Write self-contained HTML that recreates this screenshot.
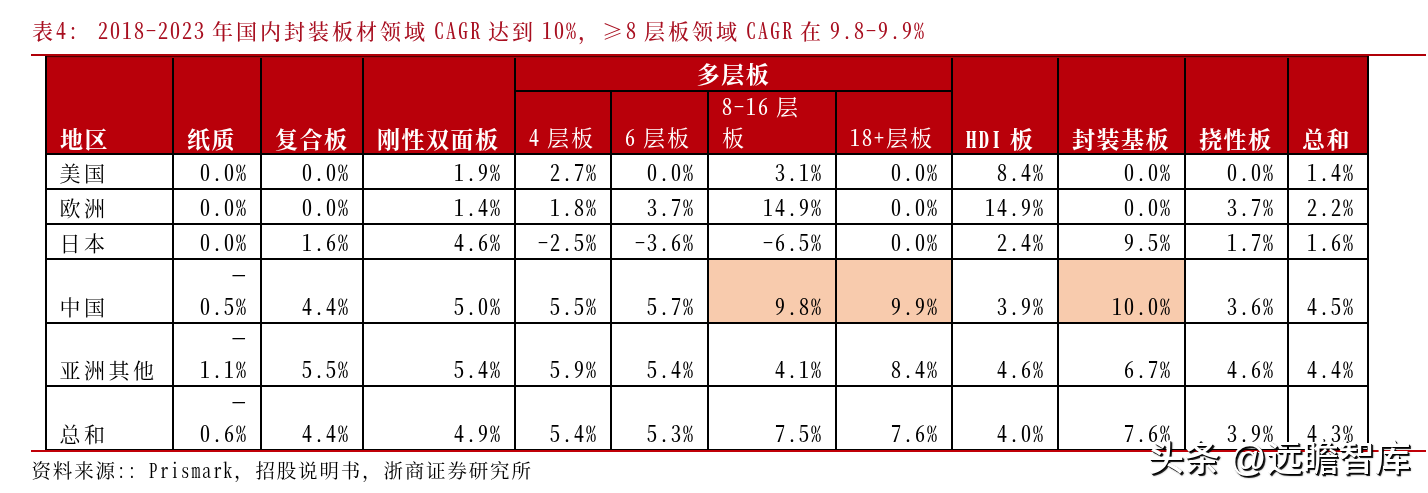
<!DOCTYPE html>
<html lang="zh-CN"><head><meta charset="utf-8"><title>表4</title>
<style>
html,body{margin:0;padding:0;background:#fff;}
body{width:1428px;height:493px;position:relative;overflow:hidden;
 font-family:"Noto Serif CJK SC","Liberation Serif",serif;color:#000;}
.n{font-feature-settings:"hwid";display:inline-block;white-space:pre;line-height:1;font-size:.909em;font-weight:500;letter-spacing:2px;word-spacing:-6px;transform:scaleY(1.1);transform-origin:50% 93%}
.title{position:absolute;left:32px;top:13.5px;font-size:21px;line-height:32px;letter-spacing:3px;font-weight:500;color:#a80f20;white-space:pre;}
.title .n{font-size:20px}
.title .g{word-spacing:6px}
.rule{position:absolute;left:31px;width:1395px;height:2px;background:#b00008;}
.r1{top:54px}
.r2{top:450px;background:#c00008}
.tb{position:absolute;left:47px;width:1320px;top:56px;height:1px;background:#4a0000}
.tb2{top:57px;background:#a2060e}
table{position:absolute;left:45px;top:56px;width:1324px;border-collapse:collapse;table-layout:fixed;font-size:22px;line-height:26px;}
td,th{border:2px solid #000;padding:0 12px 1px 14px;vertical-align:bottom;text-align:right;font-weight:400;white-space:nowrap;overflow:hidden}
td{font-feature-settings:"hwid";letter-spacing:2px;font-size:20px;font-weight:500}
.v{display:inline-block;transform:scaleY(1.1);transform-origin:50% 100%}
td.l{text-align:left;letter-spacing:3.5px;font-size:21px;font-weight:400;font-feature-settings:normal;padding:0 0 3px 12.5px}
td.hl{background:#f8cbad}
th{background:#b9000a;color:#fff;text-align:left;font-weight:700;font-size:23px;letter-spacing:1.5px;padding:0 8px 1px 13px}
th .n{font-weight:700}
th.sub .n{font-weight:500;font-size:20px}
th.sub{font-weight:400;font-size:22px;letter-spacing:2px;padding:0 8px 3px 13px}
th.grp{text-align:center;vertical-align:middle;padding:0}
.d{position:relative;top:-3px;left:.5px;display:inline-block;transform:scaleX(1.45);transform-origin:100% 50%;font-weight:700}
.u{position:relative;top:-5px}
.src{position:absolute;left:31.5px;top:456px;font-size:19.5px;line-height:28px;letter-spacing:1.83px;white-space:pre;}
.src .n{letter-spacing:1.8px;word-spacing:0;font-weight:400}
.wm{position:absolute;left:1148px;top:435px;font-family:"Liberation Sans","Noto Sans CJK SC",sans-serif;font-weight:500;font-size:36px;line-height:48px;color:#fff;white-space:pre;text-shadow:1px 1px 0 #000,2px 2px 0 rgba(0,0,0,.8),2px 2px 2px rgba(0,0,0,.4);}
</style></head>
<body>
<div class="title">表<span class="n">4:</span><span class="n g"> </span><span class="n">2018-2023 </span>年国内封装板材领域<span class="n"> CAGR </span>达到<span class="n"> 10%</span>，≥<span class="n">8 </span>层板领域<span class="n"> CAGR </span>在<span class="n"> 9.8-9.9%</span></div>
<table><colgroup><col style="width:127px"><col style="width:88px"><col style="width:102px"><col style="width:152px"><col style="width:96px"><col style="width:97px"><col style="width:128px"><col style="width:116px"><col style="width:106px"><col style="width:127px"><col style="width:103px"><col style="width:80px"></colgroup>
<thead><tr style="height:34px"><th rowspan="2">地区</th><th rowspan="2">纸质</th><th rowspan="2">复合板</th><th rowspan="2">刚性双面板</th><th colspan="4" class="grp">多层板</th><th rowspan="2"><span class="n">HDI </span>板</th><th rowspan="2">封装基板</th><th rowspan="2">挠性板</th><th rowspan="2">总和</th></tr>
<tr style="height:63px"><th class="sub"><span class="n">4 </span>层板</th><th class="sub"><span class="n">6 </span>层板</th><th class="sub"><span class="u"><span class="n">8-16 </span>层</span><br>板</th><th class="sub"><span class="n">18+</span>层板</th></tr></thead><tbody>
<tr style="height:35px"><td class="l">美国</td><td><span class="v">0.0%</span></td><td><span class="v">0.0%</span></td><td><span class="v">1.9%</span></td><td><span class="v">2.7%</span></td><td><span class="v">0.0%</span></td><td><span class="v">3.1%</span></td><td><span class="v">0.0%</span></td><td><span class="v">8.4%</span></td><td><span class="v">0.0%</span></td><td><span class="v">0.0%</span></td><td><span class="v">1.4%</span></td></tr>
<tr style="height:35px"><td class="l">欧洲</td><td><span class="v">0.0%</span></td><td><span class="v">0.0%</span></td><td><span class="v">1.4%</span></td><td><span class="v">1.8%</span></td><td><span class="v">3.7%</span></td><td><span class="v">14.9%</span></td><td><span class="v">0.0%</span></td><td><span class="v">14.9%</span></td><td><span class="v">0.0%</span></td><td><span class="v">3.7%</span></td><td><span class="v">2.2%</span></td></tr>
<tr style="height:35px"><td class="l">日本</td><td><span class="v">0.0%</span></td><td><span class="v">1.6%</span></td><td><span class="v">4.6%</span></td><td><span class="v">-2.5%</span></td><td><span class="v">-3.6%</span></td><td><span class="v">-6.5%</span></td><td><span class="v">0.0%</span></td><td><span class="v">2.4%</span></td><td><span class="v">9.5%</span></td><td><span class="v">1.7%</span></td><td><span class="v">1.6%</span></td></tr>
<tr style="height:64px"><td class="l">中国</td><td><span class="v"><span class="d">-</span><br>0.5%</span></td><td><span class="v">4.4%</span></td><td><span class="v">5.0%</span></td><td><span class="v">5.5%</span></td><td><span class="v">5.7%</span></td><td class="hl"><span class="v">9.8%</span></td><td class="hl"><span class="v">9.9%</span></td><td><span class="v">3.9%</span></td><td class="hl"><span class="v">10.0%</span></td><td><span class="v">3.6%</span></td><td><span class="v">4.5%</span></td></tr>
<tr style="height:63px"><td class="l">亚洲其他</td><td><span class="v"><span class="d">-</span><br>1.1%</span></td><td><span class="v">5.5%</span></td><td><span class="v">5.4%</span></td><td><span class="v">5.9%</span></td><td><span class="v">5.4%</span></td><td><span class="v">4.1%</span></td><td><span class="v">8.4%</span></td><td><span class="v">4.6%</span></td><td><span class="v">6.7%</span></td><td><span class="v">4.6%</span></td><td><span class="v">4.4%</span></td></tr>
<tr style="height:64px"><td class="l">总和</td><td><span class="v"><span class="d">-</span><br>0.6%</span></td><td><span class="v">4.4%</span></td><td><span class="v">4.9%</span></td><td><span class="v">5.4%</span></td><td><span class="v">5.3%</span></td><td><span class="v">7.5%</span></td><td><span class="v">7.6%</span></td><td><span class="v">4.0%</span></td><td><span class="v">7.6%</span></td><td><span class="v">3.9%</span></td><td><span class="v">4.3%</span></td></tr>
</tbody></table>
<div class="rule r1"></div><div class="rule r2"></div><div class="tb"></div><div class="tb tb2"></div>
<div class="src">资料来源<span class="n">:: Prismark</span>，招股说明书，浙商证券研究所</div>
<div class="wm">头条 @远瞻智库</div>
</body></html>
